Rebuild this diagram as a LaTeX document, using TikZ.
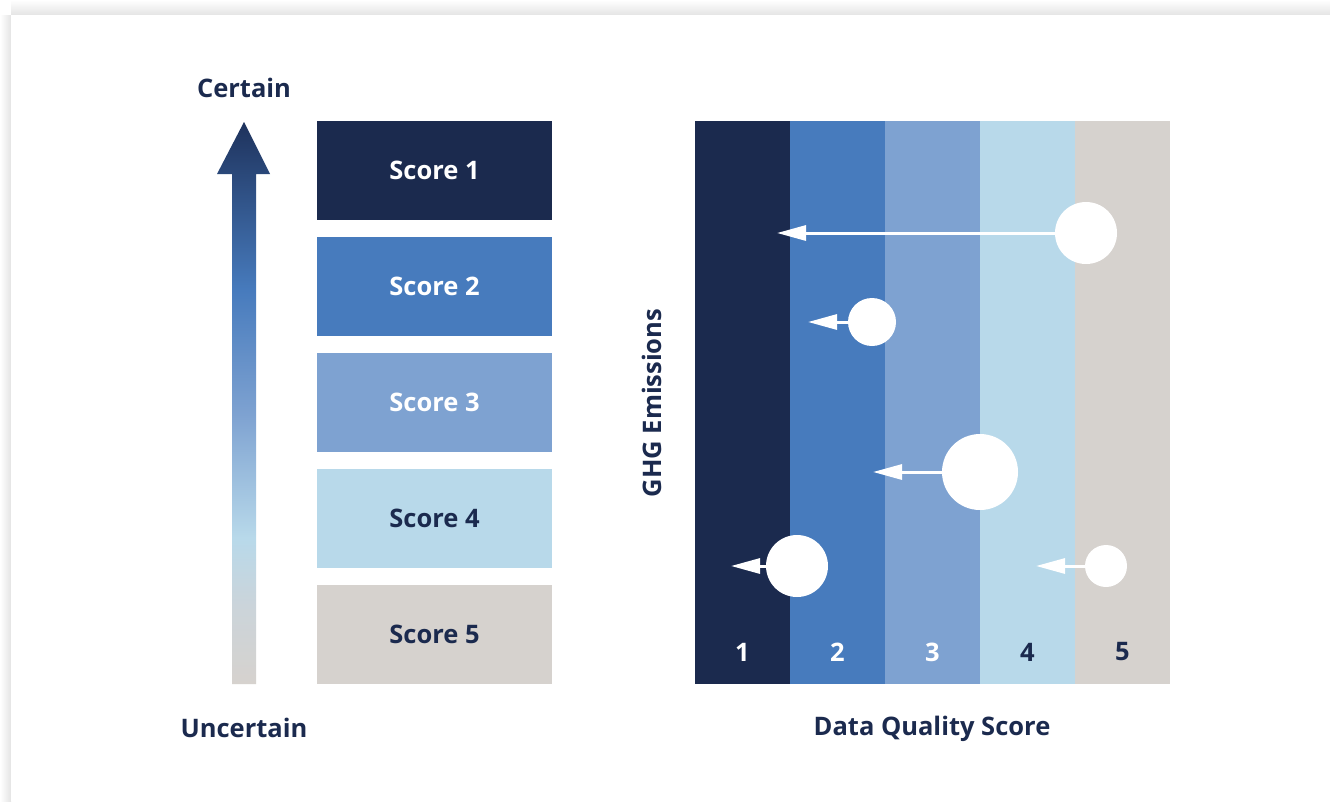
\documentclass[tikz,border=0pt]{standalone}
\usepackage{fontspec}
\setmainfont{Open Sans}
\usetikzlibrary{arrows.meta, positioning, calc}
\definecolor{dqnavy}{RGB}{27,42,78}
\definecolor{dqtop}{RGB}{30,50,92}
\definecolor{dqblue}{RGB}{71,123,189}
\definecolor{dqmid}{RGB}{126,162,209}
\definecolor{dqpale}{RGB}{184,217,234}
\definecolor{dqfade}{RGB}{203,212,218}
\definecolor{dqgrey}{RGB}{214,210,206}
\definecolor{shadowgrey}{RGB}{228,228,228}

% vertical fade for the certainty arrow (grey at the foot, navy at the tip)
\pgfdeclareverticalshading{certainty}{100bp}{color(0bp)=(dqgrey); color(25bp)=(dqgrey); color(32bp)=(dqfade); color(38bp)=(dqpale); color(49bp)=(dqmid); color(60bp)=(dqblue); color(75bp)=(dqtop); color(100bp)=(dqtop)}

\begin{document}
\begin{tikzpicture}[x=1pt, y=-1pt,
  score/.style={rectangle, minimum width=235pt, minimum height=99pt, inner sep=0pt, outer sep=0pt, font=\fontsize{25.5}{29}\selectfont\bfseries},
  band/.style={rectangle, minimum width=95pt, minimum height=563pt, inner sep=0pt, outer sep=0pt},
  num/.style={font=\fontsize{25.5}{29}\selectfont\bfseries},
  dot/.style={circle, fill=white, inner sep=0pt},
  flow/.style={white, line width=3pt, -{Triangle[length=29pt, width=15pt]}},
  axislabel/.style={text=dqnavy, font=\fontsize{25.5}{29}\selectfont\bfseries}
]
\useasboundingbox (0,0) rectangle (1330,801);
% card with a soft shadow along the top and left
\fill[white] (0,0) rectangle (1330,801);
\shade[top color=white, bottom color=shadowgrey] (11,0) rectangle (1330,15);
\shade[left color=white, right color=shadowgrey] (0,15) rectangle (11,801);
\fill[white] (11,15) rectangle (1330,801);

% certainty arrow
\shade[shading=certainty] (244,122) -- (270,174) -- (256,174) -- (256,684)
  -- (232,684) -- (232,174) -- (217,174) -- cycle;
\node[axislabel] (certain) at (244,88) {Certain};
\node[axislabel] (uncertain) at (244,728) {Uncertain};

% score boxes
\node[score, fill=dqnavy, text=white] (s1) at (434.5,170.5) {Score 1};
\node[score, fill=dqblue, text=white, below=17pt of s1] (s2) {Score 2};
\node[score, fill=dqmid, text=white, below=17pt of s2] (s3) {Score 3};
\node[score, fill=dqpale, text=dqnavy, below=17pt of s3] (s4) {Score 4};
\node[score, fill=dqgrey, text=dqnavy, below=17pt of s4] (s5) {Score 5};

% quality bands
\node[band, fill=dqnavy] (c1) at (742.5,402.5) {};
\node[band, fill=dqblue, right=0pt of c1] (c2) {};
\node[band, fill=dqmid, right=0pt of c2] (c3) {};
\node[band, fill=dqpale, right=0pt of c3] (c4) {};
\node[band, fill=dqgrey, right=0pt of c4] (c5) {};
\node[num, text=white] (n1) at ($(c1.south)+(0,-32)$) {1};
\node[num, text=white] (n2) at ($(c2.south)+(0,-32)$) {2};
\node[num, text=white] (n3) at ($(c3.south)+(0,-32)$) {3};
\node[num, text=dqnavy] (n4) at ($(c4.south)+(0,-32)$) {4};
\node[num, text=dqnavy] (n5) at ($(c5.south)+(0,-32)$) {5};
\node[axislabel, rotate=90] (ghg) at (652,403) {GHG Emissions};
\node[axislabel] (dqs) at (932,729) {Data Quality Score};

% emission sources and their shift
\node[dot, minimum size=62pt] (d1) at (1086,233) {};
\node[dot, minimum size=48pt] (d2) at (872,322) {};
\node[dot, minimum size=76pt] (d3) at (980,472) {};
\node[dot, minimum size=62pt] (d4) at (797,566) {};
\node[dot, minimum size=42pt] (d5) at (1106,566) {};
\coordinate (t1) at (777,233);
\coordinate (t2) at (808,322);
\coordinate (t3) at (873,472);
\coordinate (t4) at (731,566);
\coordinate (t5) at (1036,566);
\draw[flow] (d1) -- (t1);
\draw[flow] (d2) -- (t2);
\draw[flow] (d3) -- (t3);
\draw[flow] (d4) -- (t4);
\draw[flow] (d5) -- (t5);
\end{tikzpicture}
\end{document}
